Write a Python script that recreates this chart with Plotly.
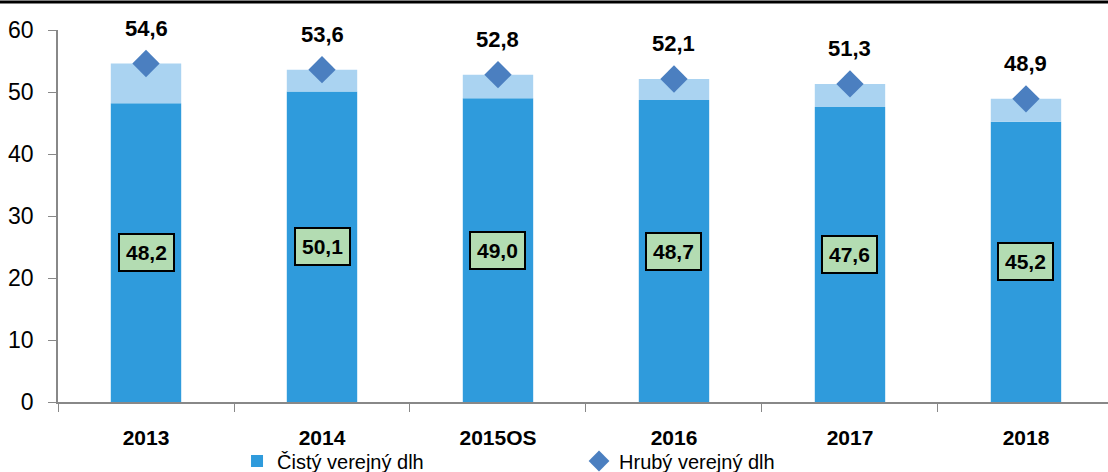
import plotly.graph_objects as go

years = ["2013", "2014", "2015OS", "2016", "2017", "2018"]
net_debt = [48.2, 50.1, 49.0, 48.7, 47.6, 45.2]
gross_debt = [54.6, 53.6, 52.8, 52.1, 51.3, 48.9]
y_ticks = [0, 10, 20, 30, 40, 50, 60]

diff = [round(g - n, 1) for g, n in zip(gross_debt, net_debt)]

FONT = "Liberation Sans, Arial, sans-serif"

fig = go.Figure()
fig.add_trace(go.Bar(x=years, y=net_debt, name="Čistý verejný dlh",
                     marker=dict(color="#2f9bdc", line=dict(width=0)), width=0.40))
fig.add_trace(go.Bar(x=years, y=diff, base=net_debt, name="diff", showlegend=False,
                     marker=dict(color="#aad3f1", line=dict(width=0)), width=0.40,
                     hoverinfo="skip"))
fig.add_trace(go.Scatter(x=years, y=gross_debt, mode="markers", name="Hrubý verejný dlh",
                         marker=dict(symbol="diamond", size=21, color="#4b7fc0")))

for i, g in enumerate(gross_debt):
    fig.add_annotation(x=i, y=g, text="<b>" + f"{g:.1f}".replace(".", ",") + "</b>",
                       showarrow=False, yshift=35, font=dict(size=22, color="black", family=FONT))
for i, n in enumerate(net_debt):
    fig.add_annotation(x=i, y=n / 2, text="<b>" + f"{n:.1f}".replace(".", ",") + "</b>",
                       showarrow=False, font=dict(size=21, color="black", family=FONT),
                       bgcolor="#b3dcb2", bordercolor="black", borderwidth=2, borderpad=6)

fig.add_shape(type="line", xref="paper", yref="paper", x0=-0.06, x1=1.01,
              y0=1.0753, y1=1.0753, line=dict(color="black", width=3))

fig.update_layout(
    width=1108, height=472,
    margin=dict(l=58, r=0, t=30, b=70, autoexpand=False),
    plot_bgcolor="white", paper_bgcolor="white",
    barmode="overlay",
    showlegend=True,
    legend=dict(orientation="h", x=0.1705, y=0.0233, xref="paper", yref="container",
                xanchor="left", yanchor="middle",
                font=dict(size=20, family=FONT, color="black"),
                entrywidth=297, entrywidthmode="pixels", itemwidth=30,
                bgcolor="rgba(0,0,0,0)"),
    font=dict(family=FONT, color="black"),
)
fig.update_xaxes(type="category", range=[-0.5, 5.466], showline=True, linecolor="#888888",
                 linewidth=1.5, ticks="outside", ticklen=8, tickcolor="#888888",
                 tickson="boundaries", ticklabelstandoff=16, automargin=False,
                 tickfont=dict(size=21, family=FONT, color="black", weight="bold"),
                 showgrid=False, zeroline=False)
fig.update_yaxes(range=[0, 60], tickvals=y_ticks, showline=True, linecolor="#888888",
                 linewidth=1.5, ticks="outside", ticklen=8, tickcolor="#888888",
                 ticklabelstandoff=10, automargin=False,
                 tickfont=dict(size=23, family=FONT, color="black"),
                 showgrid=False, zeroline=False)

fig.write_html("out.html", config={"displayModeBar": False},
               post_script="document.body.style.margin='0';")
